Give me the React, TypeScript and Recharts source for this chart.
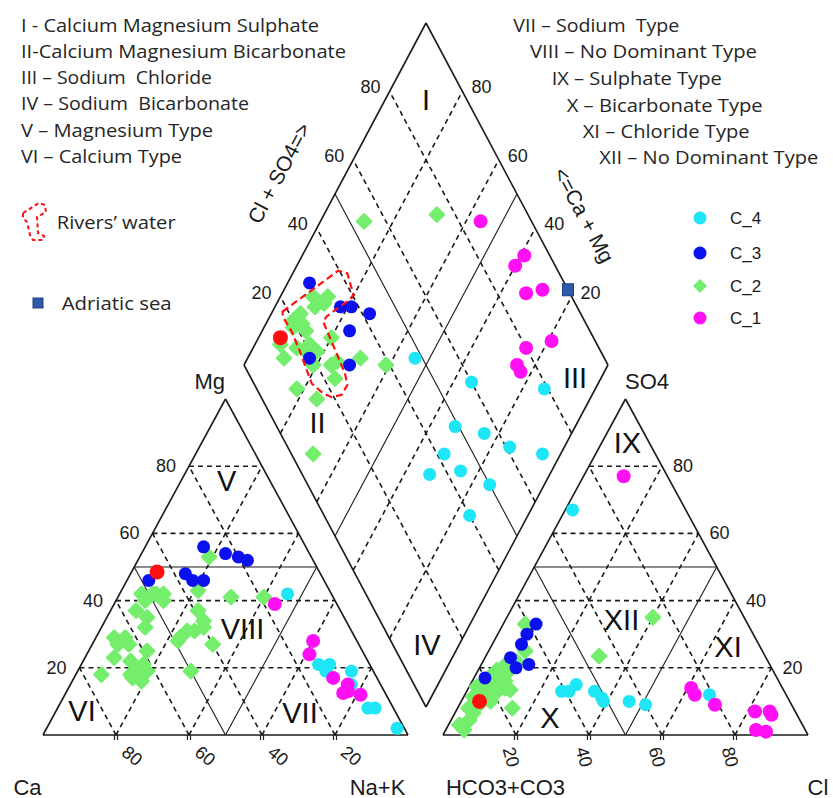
import { ScatterChart, Scatter, XAxis, YAxis, ReferenceLine } from 'recharts';

const W = 833;
const H = 798;

// cation triangle points: [Mg %, Na+K %]
const cationsC1 = [[39, 44], [28, 60], [24, 61], [17, 71], [15, 76], [12.5, 76], [13, 77], [12, 81]];
const cationsC2 = [
  [53, 19], [43, 21], [41, 31], [41, 40], [42, 6], [42, 9], [42, 10], [42, 12], [40, 13], [40, 8],
  [37, 7], [35, 11], [32, 12], [29, 5], [29, 8], [27, 10], [27, 7], [25, 16], [23, 8], [19, 16],
  [22, 13], [21, 17], [17, 18], [18, 15], [19, 19], [16, 19], [18, 7], [19, 31], [29, 23], [31, 24],
  [31, 26], [32, 28], [34, 27], [37, 24], [27, 33], [28, 23], [20, 17], [17, 16],
];
const cationsC3 = [[56, 16], [54, 23], [53, 27], [52, 30], [46, 6], [48, 15], [46, 18], [46, 21]];
const cationsC4 = [[42, 46], [21, 65], [21, 68], [19, 68], [19, 75], [15, 77], [8, 85], [8, 87], [2, 96]];
const cationsRed = [[48.5, 7]];

// anion triangle points: [SO4 %, Cl %]
const anionsC1 = [[77, 11], [14, 61], [12, 63], [9, 70], [7, 82], [7, 86], [6, 87], [1.5, 85], [1, 88]];
const anionsC2 = [
  [35, 40], [23.5, 31], [33, 6], [25, 10], [8, 15], [1.5, 5], [4.5, 5], [6.5, 5], [9.4, 5.5], [11.4, 6.3],
  [13.4, 6.2], [15.4, 7.1], [17.4, 7], [18.4, 8.3], [20.3, 8.7], [21.8, 9.3], [13.9, 10], [13.4, 11.7],
  [12.4, 8.1], [13.4, 4.4], [11.4, 2.6], [14.4, 2.1], [17.4, 4.2], [19.3, 5.1], [21.3, 6.8], [3, 3],
  [8, 3], [16, 9], [10, 8],
];
const anionsC3 = [[33, 9], [30, 8], [27, 8], [23, 7], [21, 13], [20, 10], [17, 3]];
const anionsC4 = [[67, 2], [13, 26], [15, 29], [13, 28], [13, 35], [10, 39], [11, 38], [10, 46], [9, 51], [12, 67]];
const anionsRed = [[10, 5]];

// diamond points: [Cl+SO4 %, Ca+Mg %]
const diamondC1 = [[86, 56], [93, 39], [89, 40], [88, 33], [93, 29], [88, 19], [80, 25], [75, 25], [75, 23]];
const diamondC2 = [
  [54, 88], [75, 69], [39, 61], [29, 91], [33, 87], [31, 87], [28, 89], [23, 92], [20, 93], [19, 92],
  [22, 90], [22, 88], [13, 93], [12, 90], [17, 88], [21, 85], [22, 82], [19, 85], [28, 80], [19, 81],
  [24, 76], [26, 75], [23, 73], [33, 69], [11, 82], [15, 75], [6, 68],
];
const diamondC3 = [[30, 94], [35, 82], [38, 79], [42, 73], [34, 76], [29, 71], [19, 83]];
const diamondC4 = [[48, 54], [60, 35], [79, 14], [49, 33], [56, 24], [61, 15], [69, 5], [42, 32], [44, 25], [35, 33], [50, 15], [40, 16]];
const diamondRed = [[14, 94]];
const adriaticSea = [[100, 22]];

// rivers' water outline in the diamond: [Cl+SO4 %, Ca+Mg %]
const riversOutline = [
  [18.4, 97.2], [39.7, 87.9], [41.8, 85], [40.3, 80.2], [38.7, 80.5], [29.8, 84.4], [28.1, 84.6],
  [26.5, 71], [25.5, 68.7], [22.5, 68.8], [19.4, 71.2], [17.6, 74.1], [15.9, 78.7], [17.4, 87],
  [18, 91.8], [17.7, 96.4],
];

const TICKS = [20, 40, 60, 80];

const typesLeft = [
  'I - Calcium Magnesium Sulphate',
  'II-Calcium Magnesium Bicarbonate',
  'III \u2013 Sodium  Chloride',
  'IV \u2013 Sodium  Bicarbonate',
  'V \u2013 Magnesium Type',
  'VI \u2013 Calcium Type',
];
const typesRight = [
  'VII \u2013 Sodium  Type',
  'VIII \u2013 No Dominant Type',
  'IX \u2013 Sulphate Type',
  'X \u2013 Bicarbonate Type',
  'XI \u2013 Chloride Type',
  'XII \u2013 No Dominant Type',
];
const groups = ['C_4', 'C_3', 'C_2', 'C_1'];

const COL = { c1: '#ff10f4', c2: '#74ee6c', c3: '#0a10ee', c4: '#1ee6f6', red: '#ff1010' };

// geometry of the three panels
const cat = ([mg, nak]: number[]) => ({ x: 43 + 3.65 * (nak + mg / 2), y: 735 - 3.36 * mg });
const an = ([so4, cl]: number[]) => ({ x: 443 + 3.65 * (cl + so4 / 2), y: 735 - 3.36 * so4 });
const dia = ([a, c]: number[]) => ({ x: 426 + 1.82 * (a - c), y: 707 - 3.42 * (a + c) });

const pts = (c: number[][], a: number[][], d: number[][]) => [...c.map(cat), ...a.map(an), ...d.map(dia)];

type Seg = { p: { x: number; y: number }[]; dash: boolean; w: number };
const segs: Seg[] = [];
const tri = (f: (v: number[]) => { x: number; y: number }) => {
  segs.push({ p: [f([0, 0]), f([0, 100])], dash: false, w: 1.6 });
  segs.push({ p: [f([0, 100]), f([100, 0])], dash: false, w: 1.6 });
  segs.push({ p: [f([100, 0]), f([0, 0])], dash: false, w: 1.6 });
  [...TICKS, 50].forEach((k) => {
    const dash = k !== 50;
    const w = dash ? 1.6 : 1.1;
    segs.push({ p: [f([k, 0]), f([k, 100 - k])], dash, w });
    segs.push({ p: [f([0, k]), f([100 - k, k])], dash, w });
    segs.push({ p: [f([0, 100 - k]), f([100 - k, 0])], dash, w });
  });
};
tri(cat);
tri(an);
segs.push({ p: [dia([0, 0]), dia([0, 100])], dash: false, w: 1.6 });
segs.push({ p: [dia([0, 100]), dia([100, 100])], dash: false, w: 1.6 });
segs.push({ p: [dia([100, 100]), dia([100, 0])], dash: false, w: 1.6 });
segs.push({ p: [dia([100, 0]), dia([0, 0])], dash: false, w: 1.6 });
[...TICKS, 50].forEach((k) => {
  const dash = k !== 50;
  const w = dash ? 1.6 : 1.1;
  segs.push({ p: [dia([k, 0]), dia([k, 100])], dash, w });
  segs.push({ p: [dia([0, k]), dia([100, k])], dash, w });
});

const dot = (fill: string, r: number) => (props: any) => (
  <circle cx={props.cx} cy={props.cy} r={r} fill={fill} />
);
const diamond = (fill: string, r: number) => (props: any) => {
  const { cx, cy } = props;
  return (
    <path
      d={`M${cx},${cy - r}L${cx + r},${cy}L${cx},${cy + r}L${cx - r},${cy}Z`}
      fill={fill}
      stroke={fill}
      strokeWidth={2.5}
      strokeLinejoin="round"
    />
  );
};
const square = (props: any) => (
  <rect x={props.cx - 5.5} y={props.cy - 6} width={11} height={12} fill="#2f5aa8" stroke="#1c3f80" strokeWidth={1} />
);

const ARIAL = 'Liberation Sans, Arial, sans-serif';
const LEG = 'Open Sans, sans-serif';

const regionLabels: [string, number, number][] = [
  ['I', 426, 100], ['II', 317.5, 422.5], ['III', 575, 378], ['IV', 427, 645],
  ['V', 226.7, 481], ['VI', 82, 711], ['VII', 300, 712.5], ['VIII', 242.5, 629],
  ['IX', 627.5, 443], ['X', 550, 717.5], ['XI', 728, 647], ['XII', 621.5, 620],
];

const Overlay = () => {
  const leftY = [31.7, 57.5, 83.5, 110, 136.5, 162.7];
  const leftW = [298, 325, 191, 228, 192, 161];
  const rightX = [513.3, 530, 551.7, 566.7, 582.7, 599.3];
  const rightY = [31.7, 58.3, 85, 111.7, 137.7, 164];
  const rightW = [166, 227, 170, 196, 167, 219];
  const legY = [218, 253, 286, 318];
  const legCol = [COL.c4, COL.c3, COL.c2, COL.c1];
  const txt = { fontFamily: ARIAL, fill: '#1a1a1a' };
  return (
    <svg width={W} height={H} style={{ position: 'absolute', left: 0, top: 0 }}>
      {typesLeft.map((t, i) => (
        <text key={t} x={21} y={leftY[i]} fontFamily={LEG} fontSize={18} fill="#262626"
          textLength={leftW[i]} lengthAdjust="spacingAndGlyphs" style={{ whiteSpace: 'pre' }}>{t}</text>
      ))}
      {typesRight.map((t, i) => (
        <text key={t} x={rightX[i]} y={rightY[i]} fontFamily={LEG} fontSize={18} fill="#262626"
          textLength={rightW[i]} lengthAdjust="spacingAndGlyphs" style={{ whiteSpace: 'pre' }}>{t}</text>
      ))}
      <path d="M23,213 L39,203 L45,205 L46,212 L37,217 L38,233 L44,236 L43,240 L33,240 L30,235 L27,222 L23,218 Z"
        fill="none" stroke="#ff1010" strokeWidth={2} strokeDasharray="4 3" />
      <text x={56.7} y={229} fontFamily={LEG} fontSize={18} fill="#262626" textLength={119} lengthAdjust="spacingAndGlyphs">Rivers’ water</text>
      <rect x={33} y={298} width={10} height={10} fill="#2f5aa8" stroke="#1c3f80" />
      <text x={61.7} y={310} fontFamily={LEG} fontSize={18} fill="#262626" textLength={110} lengthAdjust="spacingAndGlyphs">Adriatic sea</text>

      {groups.map((g, i) =>
        i === 2 ? (
          <path key={g} d={`M700,${legY[i] - 7}L707,${legY[i]}L700,${legY[i] + 7}L693,${legY[i]}Z`} fill={legCol[i]} />
        ) : (
          <circle key={g} cx={700} cy={legY[i]} r={6.5} fill={legCol[i]} />
        ))}
      {groups.map((g, i) => (
        <text key={g + 't'} x={730} y={legY[i]} dominantBaseline="central" fontSize={17} {...txt}>{g}</text>
      ))}

      {TICKS.map((k) => {
        const p1 = cat([k, 0]);
        const p2 = an([k, 100 - k]);
        const p3 = dia([k, 100]);
        const p4 = dia([100, k]);
        const b1 = cat([0, 100 - k]);
        const b2 = an([0, k]);
        return (
          <g key={k} fontSize={18} {...txt}>
            <text x={p1.x - 23} y={p1.y} textAnchor="middle" dominantBaseline="central">{k}</text>
            <text x={p2.x + 21} y={p2.y} textAnchor="middle" dominantBaseline="central">{k}</text>
            <text x={p3.x - 19} y={p3.y - 4} textAnchor="middle" dominantBaseline="central">{k}</text>
            <text x={p4.x + 19} y={p4.y - 4} textAnchor="middle" dominantBaseline="central">{k}</text>
            <text x={b1.x + 16} y={756} textAnchor="middle" dominantBaseline="central"
              transform={`rotate(40 ${b1.x + 16} 756)`}>{k}</text>
            <text x={b2.x - 5} y={757} textAnchor="middle" dominantBaseline="central"
              transform={`rotate(75 ${b2.x - 5} 757)`}>{k}</text>
            <line x1={b1.x - 1.5} x2={b1.x - 1.5} y1={735} y2={740} stroke="#222" strokeWidth={1.2} />
            <line x1={b1.x + 1.5} x2={b1.x + 1.5} y1={735} y2={740} stroke="#222" strokeWidth={1.2} />
            <line x1={b2.x - 1.5} x2={b2.x - 1.5} y1={735} y2={740} stroke="#222" strokeWidth={1.2} />
            <line x1={b2.x + 1.5} x2={b2.x + 1.5} y1={735} y2={740} stroke="#222" strokeWidth={1.2} />
          </g>
        );
      })}

      <g fontSize={22} {...txt}>
        <text x={225} y={381} textAnchor="end" dominantBaseline="central">Mg</text>
        <text x={625} y={381} dominantBaseline="central">SO4</text>
        <text x={27.5} y={787} textAnchor="middle" dominantBaseline="central">Ca</text>
        <text x={377.5} y={787} textAnchor="middle" dominantBaseline="central">Na+K</text>
        <text x={505.5} y={787} textAnchor="middle" dominantBaseline="central">HCO3+CO3</text>
        <text x={818} y={787} textAnchor="middle" dominantBaseline="central">Cl</text>
      </g>
      <g fontSize={21} {...txt}>
        <text x={279} y={173} textAnchor="middle" dominantBaseline="central" transform="rotate(-62 279 173)">Cl + SO4=&gt;</text>
        <text x={584} y={215} textAnchor="middle" dominantBaseline="central" transform="rotate(62 584 215)">&lt;=Ca + Mg</text>
      </g>
      <g fontSize={29} fontFamily={ARIAL} fill="#111">
        {regionLabels.map(([t, x, y]) => (
          <text key={t} x={x} y={y} textAnchor="middle" dominantBaseline="central">{t}</text>
        ))}
      </g>
    </svg>
  );
};

export default function App() {
  return (
    <div style={{ position: 'absolute', left: 0, top: 0, width: W, height: H, background: '#fff' }}>
      <Overlay />
      <ScatterChart width={W} height={H} margin={{ top: 0, right: 0, bottom: 0, left: 0 }}>
        <XAxis type="number" dataKey="x" domain={[0, W]} allowDataOverflow hide />
        <YAxis type="number" dataKey="y" domain={[0, H]} allowDataOverflow reversed hide />
        {segs.map((s, i) => (
          <ReferenceLine
            key={i}
            segment={s.p}
            stroke="#1a1a1a"
            strokeWidth={s.w}
            strokeDasharray={s.dash ? '5 4' : undefined}
            ifOverflow="visible"
          />
        ))}
        <Scatter data={pts(cationsC2, anionsC2, diamondC2)} shape={diamond(COL.c2, 7)} isAnimationActive={false} />
        <Scatter data={pts(cationsC3, anionsC3, diamondC3)} shape={dot(COL.c3, 6.5)} isAnimationActive={false} />
        <Scatter data={pts(cationsC4, anionsC4, diamondC4)} shape={dot(COL.c4, 6.5)} isAnimationActive={false} />
        <Scatter data={pts(cationsC1, anionsC1, diamondC1)} shape={dot(COL.c1, 7)} isAnimationActive={false} />
        <Scatter data={pts(cationsRed, anionsRed, diamondRed)} shape={dot(COL.red, 7.5)} isAnimationActive={false} />
        <Scatter data={adriaticSea.map(dia)} shape={square} isAnimationActive={false} />
        <Scatter
          data={riversOutline.map(dia)}
          shape={() => <g />}
          line={{ stroke: '#ff1010', strokeWidth: 2.2, strokeDasharray: '7 4', fill: 'none' }}
          lineType="joint"
          lineJointType="linearClosed"
          isAnimationActive={false}
        />
      </ScatterChart>
    </div>
  );
}
